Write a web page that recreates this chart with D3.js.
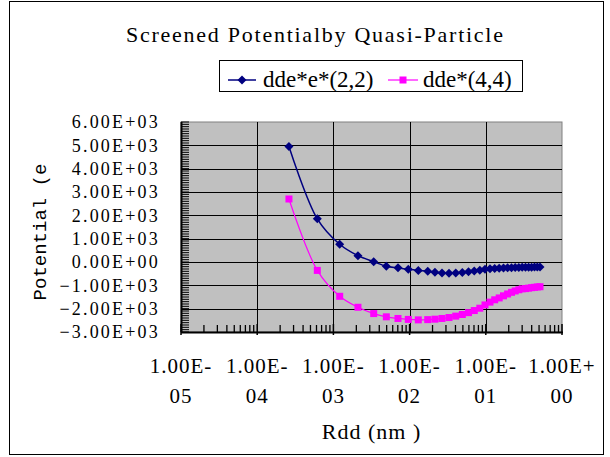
<!DOCTYPE html>
<html>
<head>
<meta charset="utf-8">
<script src="https://cdn.jsdelivr.net/npm/d3@7"></script>
<style>
  body { margin: 0; background: #fff; }
</style>
</head>
<body>
<div id="chart"></div>
<script>
// Rdd (nm)
const rdd = [2.61e-4, 6.15e-4, 1.21e-3, 2.10e-3, 3.38e-3, 4.95e-3, 7.04e-3, 9.61e-3,
  0.0130, 0.0173, 0.0215, 0.0266, 0.0329, 0.0403, 0.0492, 0.0593, 0.0706, 0.0834,
  0.0976, 0.1135, 0.1308, 0.1499, 0.1707, 0.1932, 0.2175, 0.2431, 0.2711, 0.3004,
  0.3319, 0.3645, 0.3990, 0.4357, 0.4742, 0.5143];

const dde22 = [4950, 1850, 760, 270, 10, -180, -250, -310, -360, -400, -440, -470,
  -480, -470, -450, -420, -390, -350, -310, -290, -275, -265, -255, -248, -242,
  -237, -233, -229, -226, -223, -221, -219, -218, -217];

const dde44 = [2700, -360, -1470, -1940, -2210, -2350, -2420, -2460, -2480, -2470,
  -2450, -2420, -2380, -2320, -2250, -2170, -2080, -1980, -1840, -1720, -1620,
  -1540, -1450, -1370, -1300, -1240, -1190, -1150, -1140, -1120, -1100, -1085,
  -1070, -1060];

const seriesNames = ['dde*e*(2,2)', 'dde*(4,4)'];
const seriesColors = ['#000080', '#FF00FF'];

const yTicks = [6000, 5000, 4000, 3000, 2000, 1000, 0, -1000, -2000, -3000];
const yTickLabels = ['6.00E+03', '5.00E+03', '4.00E+03', '3.00E+03', '2.00E+03',
  '1.00E+03', '0.00E+00', '\u22121.00E+03', '\u22122.00E+03', '\u22123.00E+03'];

const xTicks = [1e-5, 1e-4, 1e-3, 1e-2, 1e-1, 1];
const xTickLabels = [['1.00E-', '05'], ['1.00E-', '04'], ['1.00E-', '03'],
  ['1.00E-', '02'], ['1.00E-', '01'], ['1.00E+', '00']];

const serif = '"Liberation Serif", "DejaVu Serif", "Times New Roman", serif';
const mono = '"Liberation Mono", "DejaVu Sans Mono", monospace';

const width = 610;
const height = 457;
const plot = { left: 181, right: 562, top: 122, bottom: 332 };

const svg = d3.select('#chart').append('svg')
  .attr('width', width)
  .attr('height', height)
  .attr('font-family', serif);

// chart border
svg.append('rect')
  .attr('x', 9.5).attr('y', 1.5)
  .attr('width', 594).attr('height', 453)
  .style('fill', 'none')
  .style('stroke', '#000')
  .style('stroke-width', 1);

const xScale = d3.scaleLog()
  .domain([1e-5, 1])
  .range([plot.left, plot.right]);

const yScale = d3.scaleLinear()
  .domain([-3000, 6000])
  .range([plot.bottom, plot.top]);

// plot area
svg.append('rect')
  .attr('x', plot.left).attr('y', plot.top)
  .attr('width', plot.right - plot.left)
  .attr('height', plot.bottom - plot.top)
  .style('fill', '#C0C0C0')
  .style('stroke', '#808080')
  .style('stroke-width', 1);

// grid lines
svg.append('g').selectAll('line')
  .data(yTicks.slice(1, -1))
  .enter().append('line')
    .attr('x1', plot.left).attr('x2', plot.right)
    .attr('y1', (d) => Math.round(yScale(d)) + 0.5)
    .attr('y2', (d) => Math.round(yScale(d)) + 0.5)
    .style('stroke', '#000')
    .style('stroke-width', 1);

svg.append('g').selectAll('line')
  .data(xTicks.slice(1, -1))
  .enter().append('line')
    .attr('x1', (d) => Math.round(xScale(d)) + 0.5)
    .attr('x2', (d) => Math.round(xScale(d)) + 0.5)
    .attr('y1', plot.top).attr('y2', plot.bottom)
    .style('stroke', '#000')
    .style('stroke-width', 1);

// y axis with dense inside minor ticks
const yMinor = d3.range(-3000, 6001, 100);
svg.append('g').selectAll('line')
  .data(yMinor)
  .enter().append('line')
    .attr('x1', plot.left)
    .attr('x2', plot.left + 8)
    .attr('y1', (d) => yScale(d))
    .attr('y2', (d) => yScale(d))
    .style('stroke', '#000')
    .style('stroke-width', 1);

svg.append('line')
  .attr('x1', plot.left + 0.5).attr('x2', plot.left + 0.5)
  .attr('y1', plot.top).attr('y2', plot.bottom)
  .style('stroke', '#000').style('stroke-width', 2);

// x axis (log) with inside minor ticks
const xMinor = [];
xTicks.slice(0, -1).forEach((dec) => {
  for (let k = 2; k <= 9; k++) xMinor.push(dec * k);
});
svg.append('g').selectAll('line')
  .data(xMinor)
  .enter().append('line')
    .attr('x1', (d) => xScale(d))
    .attr('x2', (d) => xScale(d))
    .attr('y1', plot.bottom - 7)
    .attr('y2', plot.bottom + 1)
    .style('stroke', '#000')
    .style('stroke-width', 1.3);

svg.append('g').selectAll('line')
  .data(xTicks)
  .enter().append('line')
    .attr('x1', (d) => xScale(d))
    .attr('x2', (d) => xScale(d))
    .attr('y1', plot.bottom - 8)
    .attr('y2', plot.bottom + 3)
    .style('stroke', '#000')
    .style('stroke-width', 1.5);

svg.append('line')
  .attr('x1', plot.left).attr('x2', plot.right + 1)
  .attr('y1', plot.bottom + 0.5).attr('y2', plot.bottom + 0.5)
  .style('stroke', '#000').style('stroke-width', 2);

// y tick labels
svg.append('g').selectAll('text')
  .data(yTicks)
  .enter().append('text')
    .attr('x', 160)
    .attr('y', (d) => yScale(d))
    .attr('dy', '0.36em')
    .attr('text-anchor', 'end')
    .style('font-family', serif)
    .style('font-size', '18px')
    .style('letter-spacing', '2.2px')
    .text((d, i) => yTickLabels[i]);

// x tick labels (two lines)
const xl = svg.append('g').selectAll('text')
  .data(xTicks)
  .enter().append('text')
    .attr('text-anchor', 'middle')
    .style('font-family', serif)
    .style('font-size', '21px')
    .style('letter-spacing', '1px');
xl.append('tspan')
  .attr('x', (d) => xScale(d))
  .attr('y', 373)
  .text((d, i) => xTickLabels[i][0]);
xl.append('tspan')
  .attr('x', (d) => xScale(d))
  .attr('y', 403)
  .text((d, i) => xTickLabels[i][1]);

// titles
svg.append('text')
  .attr('x', 314.5).attr('y', 42)
  .attr('text-anchor', 'middle')
  .attr('textLength', 377)
  .attr('lengthAdjust', 'spacing')
  .style('font-family', serif)
  .style('font-size', '22px')
  .text('Screened Potentialby Quasi-Particle');

svg.append('text')
  .attr('x', (plot.left + plot.right) / 2).attr('y', 439)
  .attr('text-anchor', 'middle')
  .style('font-family', serif)
  .style('font-size', '22px')
  .style('letter-spacing', '1px')
  .text('Rdd (nm )');

svg.append('text')
  .attr('transform', 'translate(46,232) rotate(-90)')
  .attr('text-anchor', 'middle')
  .style('font-family', mono)
  .style('font-size', '19px')
  .text('Potential (e');

// series
const line = d3.line()
  .x((d) => xScale(d[0]))
  .y((d) => yScale(d[1]))
  .curve(d3.curveCatmullRom.alpha(0.5));

const series = [dde22, dde44].map((vals) => rdd.map((r, i) => [r, vals[i]]));

series.forEach((pts, s) => {
  svg.append('path')
    .attr('d', line(pts))
    .style('fill', 'none')
    .style('stroke', seriesColors[s])
    .style('stroke-width', s === 0 ? 1.5 : 1.2);
});

const diamond = 'M0,-4.5L4.5,0L0,4.5L-4.5,0Z';
svg.append('g').selectAll('path')
  .data(series[0])
  .enter().append('path')
    .attr('d', diamond)
    .attr('transform', (d) => 'translate(' + xScale(d[0]) + ',' + yScale(d[1]) + ')')
    .style('fill', seriesColors[0]);

svg.append('g').selectAll('rect')
  .data(series[1])
  .enter().append('rect')
    .attr('x', (d) => xScale(d[0]) - 3.5)
    .attr('y', (d) => yScale(d[1]) - 3.5)
    .attr('width', 7).attr('height', 7)
    .style('fill', seriesColors[1]);

// legend
const legend = svg.append('g');
legend.append('rect')
  .attr('x', 219.5).attr('y', 60.5)
  .attr('width', 303).attr('height', 31)
  .style('fill', '#fff')
  .style('stroke', '#000')
  .style('stroke-width', 1);

const legendItems = [
  { x1: 228, x2: 256, tx: 263 },
  { x1: 388, x2: 418, tx: 423 }
];
legendItems.forEach((it, s) => {
  legend.append('line')
    .attr('x1', it.x1).attr('x2', it.x2)
    .attr('y1', 80).attr('y2', 80)
    .style('stroke', seriesColors[s])
    .style('stroke-width', s === 0 ? 1.5 : 1.2);
  const cx = (it.x1 + it.x2) / 2;
  if (s === 0) {
    legend.append('path')
      .attr('d', diamond)
      .attr('transform', 'translate(' + cx + ',80)')
      .style('fill', seriesColors[s]);
  } else {
    legend.append('rect')
      .attr('x', cx - 3.5).attr('y', 76.5)
      .attr('width', 7).attr('height', 7)
      .style('fill', seriesColors[s]);
  }
  legend.append('text')
    .attr('x', it.tx).attr('y', 87)
    .style('font-family', serif)
    .style('font-size', '23px')
    .text(seriesNames[s]);
});
</script>
</body>
</html>
